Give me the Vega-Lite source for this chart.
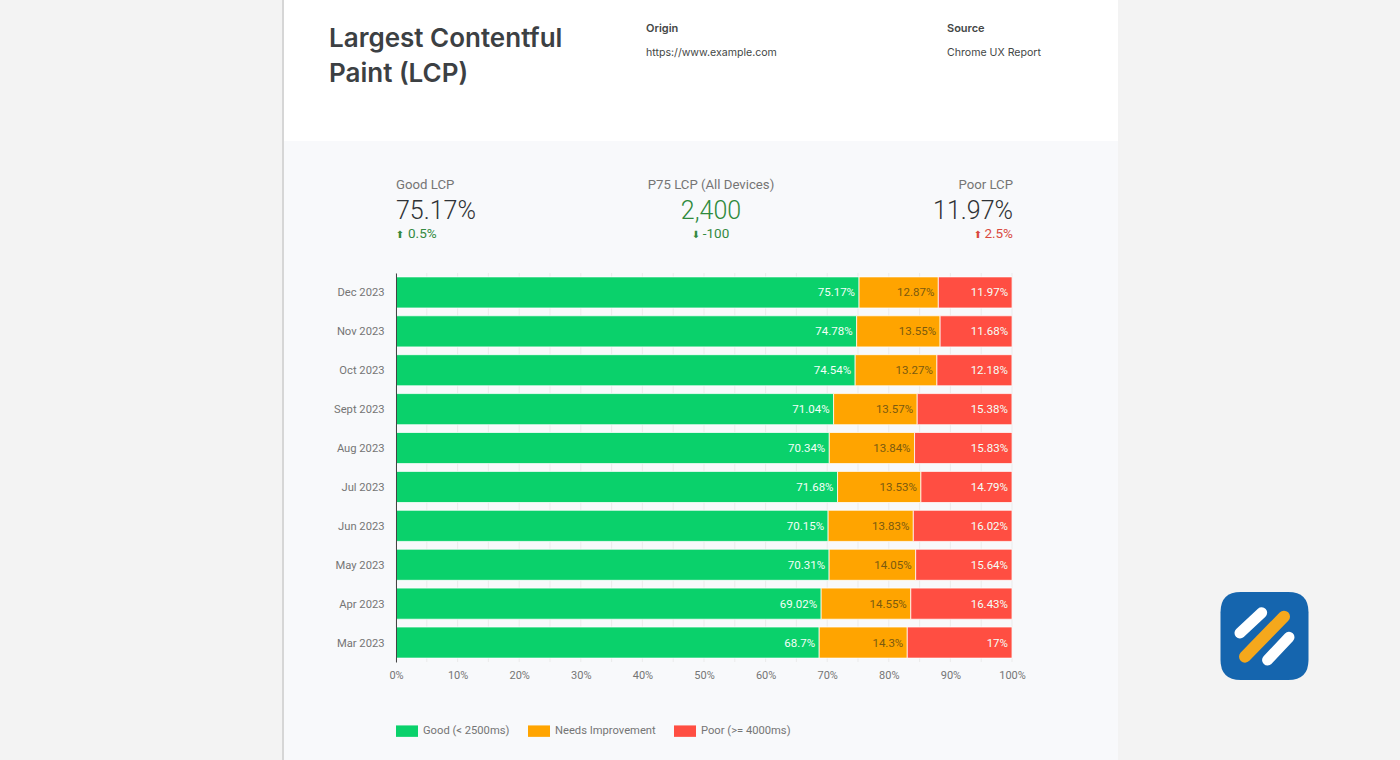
{
  "$schema": "https://vega.github.io/schema/vega-lite/v6.json",
  "description": "Largest Contentful Paint report card: monthly share of good, needs improvement and poor LCP",
  "width": 1400,
  "height": 760,
  "padding": 0,
  "autosize": {"type": "none"},
  "background": "#f3f3f3",
  "datasets": {
    "months": [
      {"month": "Dec 2023", "status": "Good (< 2500ms)", "share": 0.7517},
      {"month": "Dec 2023", "status": "Needs Improvement", "share": 0.1287},
      {"month": "Dec 2023", "status": "Poor (>= 4000ms)", "share": 0.1197},
      {"month": "Nov 2023", "status": "Good (< 2500ms)", "share": 0.7478},
      {"month": "Nov 2023", "status": "Needs Improvement", "share": 0.1355},
      {"month": "Nov 2023", "status": "Poor (>= 4000ms)", "share": 0.1168},
      {"month": "Oct 2023", "status": "Good (< 2500ms)", "share": 0.7454},
      {"month": "Oct 2023", "status": "Needs Improvement", "share": 0.1327},
      {"month": "Oct 2023", "status": "Poor (>= 4000ms)", "share": 0.1218},
      {"month": "Sept 2023", "status": "Good (< 2500ms)", "share": 0.7104},
      {"month": "Sept 2023", "status": "Needs Improvement", "share": 0.1357},
      {"month": "Sept 2023", "status": "Poor (>= 4000ms)", "share": 0.1538},
      {"month": "Aug 2023", "status": "Good (< 2500ms)", "share": 0.7034},
      {"month": "Aug 2023", "status": "Needs Improvement", "share": 0.1384},
      {"month": "Aug 2023", "status": "Poor (>= 4000ms)", "share": 0.1583},
      {"month": "Jul 2023", "status": "Good (< 2500ms)", "share": 0.7168},
      {"month": "Jul 2023", "status": "Needs Improvement", "share": 0.1353},
      {"month": "Jul 2023", "status": "Poor (>= 4000ms)", "share": 0.1479},
      {"month": "Jun 2023", "status": "Good (< 2500ms)", "share": 0.7015},
      {"month": "Jun 2023", "status": "Needs Improvement", "share": 0.1383},
      {"month": "Jun 2023", "status": "Poor (>= 4000ms)", "share": 0.1602},
      {"month": "May 2023", "status": "Good (< 2500ms)", "share": 0.7031},
      {"month": "May 2023", "status": "Needs Improvement", "share": 0.1405},
      {"month": "May 2023", "status": "Poor (>= 4000ms)", "share": 0.1564},
      {"month": "Apr 2023", "status": "Good (< 2500ms)", "share": 0.6902},
      {"month": "Apr 2023", "status": "Needs Improvement", "share": 0.1455},
      {"month": "Apr 2023", "status": "Poor (>= 4000ms)", "share": 0.1643},
      {"month": "Mar 2023", "status": "Good (< 2500ms)", "share": 0.687},
      {"month": "Mar 2023", "status": "Needs Improvement", "share": 0.143},
      {"month": "Mar 2023", "status": "Poor (>= 4000ms)", "share": 0.17}
    ],
    "kpis": [
      {"kpi": "Good LCP", "value": "75.17%", "delta": "0.5%", "arrow": "⬆", "trend": "good"},
      {"kpi": "P75 LCP (All Devices)", "value": "2,400", "delta": "-100", "arrow": "⬇", "trend": "good"},
      {"kpi": "Poor LCP", "value": "11.97%", "delta": "2.5%", "arrow": "⬆", "trend": "bad"}
    ],
    "gridlines": [
      {"tick": 0}, {"tick": 0.05}, {"tick": 0.1}, {"tick": 0.15}, {"tick": 0.2}, {"tick": 0.25}, {"tick": 0.3},
      {"tick": 0.35}, {"tick": 0.4}, {"tick": 0.45}, {"tick": 0.5}, {"tick": 0.55}, {"tick": 0.6}, {"tick": 0.65},
      {"tick": 0.7}, {"tick": 0.75}, {"tick": 0.8}, {"tick": 0.85}, {"tick": 0.9}, {"tick": 0.95}, {"tick": 1}
    ]
  },
  "resolve": {
    "scale": {"x": "independent", "y": "independent", "color": "independent"},
    "axis": {"x": "independent", "y": "independent"}
  },
  "layer": [
    {
      "data": {"values": [{"card": "edge", "part": "body"}]},
      "mark": {"type": "rect", "color": "#d6d6d6"},
      "encoding": {
        "x": {"field": "card", "type": "nominal", "axis": null, "scale": {"type": "band", "domain": ["edge"], "range": [282, 284], "paddingInner": 0, "paddingOuter": 0}},
        "y": {"field": "part", "type": "nominal", "axis": null, "scale": {"type": "band", "domain": ["body"], "range": [0, 760], "paddingInner": 0, "paddingOuter": 0}}
      }
    },
    {
      "data": {"values": [{"card": "report", "part": "header"}]},
      "mark": {"type": "rect", "color": "#ffffff"},
      "encoding": {
        "x": {"field": "card", "type": "nominal", "axis": null, "scale": {"type": "band", "domain": ["report"], "range": [284, 1118], "paddingInner": 0, "paddingOuter": 0}},
        "y": {"field": "part", "type": "nominal", "axis": null, "scale": {"type": "band", "domain": ["header"], "range": [0, 141], "paddingInner": 0, "paddingOuter": 0}}
      }
    },
    {
      "data": {"values": [{"card": "report", "part": "body"}]},
      "mark": {"type": "rect", "color": "#f8f9fb"},
      "encoding": {
        "x": {"field": "card", "type": "nominal", "axis": null, "scale": {"type": "band", "domain": ["report"], "range": [284, 1118], "paddingInner": 0, "paddingOuter": 0}},
        "y": {"field": "part", "type": "nominal", "axis": null, "scale": {"type": "band", "domain": ["body"], "range": [141, 760], "paddingInner": 0, "paddingOuter": 0}}
      }
    },
    {
      "data": {"name": "gridlines"},
      "mark": {"type": "rule", "color": "#ebebeb", "strokeWidth": 1},
      "encoding": {
        "x": {"field": "tick", "type": "quantitative", "axis": null, "scale": {"domain": [0, 1], "range": [396, 1012], "nice": false, "zero": false}},
        "y": {"datum": 0, "type": "quantitative", "axis": null, "scale": {"domain": [0, 1], "range": [273, 662], "nice": false, "zero": false}},
        "y2": {"datum": 1}
      }
    },
    {
      "data": {"name": "months"},
      "transform": [
        {"stack": "share", "groupby": ["month"], "sort": [{"field": "status", "order": "ascending"}], "as": ["x0", "x1"]}
      ],
      "encoding": {
        "y": {
          "field": "month",
          "type": "nominal",
          "title": null,
          "sort": null,
          "scale": {
            "type": "band",
            "domain": ["Dec 2023", "Nov 2023", "Oct 2023", "Sept 2023", "Aug 2023", "Jul 2023", "Jun 2023", "May 2023", "Apr 2023", "Mar 2023"],
            "range": [273, 662],
            "paddingInner": 0.2,
            "paddingOuter": 0.1
          },
          "axis": {
            "orient": "left",
            "offset": -396,
            "zindex": 1,
            "domainColor": "#444444",
            "domainWidth": 1,
            "ticks": false,
            "grid": false,
            "labelPadding": 12,
            "labelOffset": 1,
            "labelFont": "Roboto",
            "labelFontSize": 11.2,
            "labelColor": "#757575"
          }
        }
      },
      "layer": [
        {
          "mark": {"type": "bar", "stroke": "#ffffff", "strokeWidth": 1, "strokeOpacity": 0.75},
          "encoding": {
            "x": {
              "field": "x0",
              "type": "quantitative",
              "title": null,
              "scale": {"domain": [0, 1], "range": [396, 1012], "nice": false, "zero": false},
              "axis": {
                "orient": "bottom",
                "offset": -98,
                "zindex": 1,
                "values": [0, 0.1, 0.2, 0.3, 0.4, 0.5, 0.6, 0.7, 0.8, 0.9, 1],
                "format": ".0%",
                "domain": false,
                "ticks": false,
                "grid": false,
                "labelFlush": false,
                "labelPadding": 7,
                "labelFont": "Roboto",
                "labelFontSize": 11,
                "labelColor": "#757575"
              }
            },
            "x2": {"field": "x1"},
            "color": {
              "field": "status",
              "type": "nominal",
              "scale": {
                "domain": ["Good (< 2500ms)", "Needs Improvement", "Poor (>= 4000ms)"],
                "range": ["#0ad16b", "#ffa400", "#ff4e42"]
              },
              "legend": {
                "orient": "none",
                "legendX": 396,
                "legendY": 720,
                "direction": "horizontal",
                "title": null,
                "symbolType": "M-1,-0.52H1V0.52H-1Z",
                "symbolSize": 484,
                "symbolStrokeWidth": 0,
                "symbolOpacity": 1,
                "labelFont": "Roboto",
                "labelFontSize": 11.2,
                "labelColor": "#757575",
                "labelOffset": 5,
                "columnPadding": 18
              }
            }
          }
        },
        {
          "mark": {"type": "text", "align": "right", "baseline": "middle", "dx": -4, "dy": 1, "font": "Roboto", "fontSize": 11.5},
          "encoding": {
            "x": {
              "field": "x1",
              "type": "quantitative",
              "title": null,
              "scale": {"domain": [0, 1], "range": [396, 1012], "nice": false, "zero": false}
            },
            "text": {"field": "share", "type": "quantitative", "format": ".2~%"},
            "color": {
              "condition": {"test": "datum.status === 'Needs Improvement'", "value": "#7a5a10"},
              "value": "#f4fff8"
            }
          }
        }
      ]
    },
    {
      "data": {"values": [{"line": "Largest Contentful"}, {"line": "Paint (LCP)"}]},
      "mark": {"type": "text", "align": "left", "baseline": "middle", "dy": 1, "font": "Inter", "fontSize": 26, "fontWeight": 600, "color": "#3c4043"},
      "encoding": {
        "x": {"datum": "title", "type": "nominal", "axis": null, "scale": {"type": "point", "domain": ["title"], "range": [329, 329], "padding": 0}},
        "y": {"field": "line", "type": "nominal", "axis": null, "sort": null, "scale": {"type": "point", "domain": ["Largest Contentful", "Paint (LCP)"], "range": [38, 73], "padding": 0}},
        "text": {"field": "line"}
      }
    },
    {
      "data": {"values": [
        {"column": "Origin", "row": "heading", "text": "Origin"},
        {"column": "Origin", "row": "content", "text": "https://www.example.com"},
        {"column": "Source", "row": "heading", "text": "Source"},
        {"column": "Source", "row": "content", "text": "Chrome UX Report"}
      ]},
      "mark": {
        "type": "text", "align": "left", "baseline": "middle", "font": "Inter", "dy": 1,
        "fontSize": {"expr": "datum.row === 'heading' ? 11 : 10.6"},
        "fontWeight": {"expr": "datum.row === 'heading' ? 600 : 400"},
        "color": "#444746"
      },
      "encoding": {
        "x": {"field": "column", "type": "nominal", "axis": null, "scale": {"type": "point", "domain": ["Origin", "Source"], "range": [646, 947], "padding": 0}},
        "y": {"field": "row", "type": "nominal", "axis": null, "scale": {"type": "point", "domain": ["heading", "content"], "range": [28, 52], "padding": 0}},
        "text": {"field": "text"}
      }
    },
    {
      "data": {"name": "kpis"},
      "mark": {
        "type": "text", "baseline": "middle", "font": "Roboto", "fontSize": 13.2, "color": "#757575",
        "align": {"expr": "datum.kpi === 'Good LCP' ? 'left' : datum.kpi === 'Poor LCP' ? 'right' : 'center'"},
        "dx": {"expr": "datum.kpi === 'Good LCP' || datum.kpi === 'Poor LCP' ? 0 : 6.5"}
      },
      "encoding": {
        "x": {"field": "kpi", "type": "nominal", "axis": null, "sort": null, "scale": {"type": "point", "domain": ["Good LCP", "P75 LCP (All Devices)", "Poor LCP"], "range": [396, 1013], "padding": 0}},
        "y": {"datum": "label", "type": "nominal", "axis": null, "scale": {"type": "point", "domain": ["label", "value", "delta"], "range": [185, 234], "padding": 0}},
        "text": {"field": "kpi"}
      }
    },
    {
      "data": {"name": "kpis"},
      "mark": {
        "type": "text", "baseline": "middle", "font": "Roboto", "fontSize": 25, "fontWeight": 300, "dy": 1,
        "align": {"expr": "datum.kpi === 'Good LCP' ? 'left' : datum.kpi === 'Poor LCP' ? 'right' : 'center'"},
        "dx": {"expr": "datum.kpi === 'Good LCP' || datum.kpi === 'Poor LCP' ? 0 : 6.5"}
      },
      "encoding": {
        "x": {"field": "kpi", "type": "nominal", "axis": null, "sort": null, "scale": {"type": "point", "domain": ["Good LCP", "P75 LCP (All Devices)", "Poor LCP"], "range": [396, 1013], "padding": 0}},
        "y": {"datum": "value", "type": "nominal", "axis": null, "scale": {"type": "point", "domain": ["label", "value", "delta"], "range": [185, 234], "padding": 0}},
        "text": {"field": "value"},
        "color": {
          "condition": {"test": "datum.kpi === 'P75 LCP (All Devices)'", "value": "#2f8a3c"},
          "value": "#2f3235"
        }
      }
    },
    {
      "data": {"name": "kpis"},
      "mark": {
        "type": "text", "baseline": "middle", "font": "Roboto", "fontSize": 13.5,
        "align": {"expr": "datum.kpi === 'Poor LCP' ? 'right' : datum.kpi === 'Good LCP' ? 'left' : 'center'"},
        "dx": {"expr": "datum.kpi === 'Good LCP' ? 12 : datum.kpi === 'Poor LCP' ? 0 : 11.5"}
      },
      "encoding": {
        "x": {"field": "kpi", "type": "nominal", "axis": null, "sort": null, "scale": {"type": "point", "domain": ["Good LCP", "P75 LCP (All Devices)", "Poor LCP"], "range": [396, 1013], "padding": 0}},
        "y": {"datum": "delta", "type": "nominal", "axis": null, "scale": {"type": "point", "domain": ["label", "value", "delta"], "range": [185, 234], "padding": 0}},
        "text": {"field": "delta"},
        "color": {
          "condition": {"test": "datum.trend === 'bad'", "value": "#d9493f"},
          "value": "#34893f"
        }
      }
    },
    {
      "data": {"name": "kpis"},
      "mark": {
        "type": "text", "baseline": "middle", "align": "center", "font": "DejaVu Sans", "fontSize": 10,
        "dx": {"expr": "datum.kpi === 'Good LCP' ? 4 : datum.kpi === 'Poor LCP' ? -35 : -8.5"}
      },
      "encoding": {
        "x": {"field": "kpi", "type": "nominal", "axis": null, "sort": null, "scale": {"type": "point", "domain": ["Good LCP", "P75 LCP (All Devices)", "Poor LCP"], "range": [396, 1013], "padding": 0}},
        "y": {"datum": "delta", "type": "nominal", "axis": null, "scale": {"type": "point", "domain": ["label", "value", "delta"], "range": [185, 235], "padding": 0}},
        "text": {"field": "arrow"},
        "color": {
          "condition": {"test": "datum.trend === 'bad'", "value": "#d9493f"},
          "value": "#34893f"
        }
      }
    },
    {
      "data": {"values": [{"badge": "logo"}]},
      "mark": {"type": "point", "filled": true, "opacity": 1, "color": "#1565ae", "size": 7744, "shape": "M-0.54,-1H0.54Q1,-1 1,-0.54V0.54Q1,1 0.54,1H-0.54Q-1,1 -1,0.54V-0.54Q-1,-1 -0.54,-1Z"},
      "encoding": {
        "x": {"field": "badge", "type": "nominal", "axis": null, "scale": {"type": "point", "domain": ["logo"], "range": [1264.5, 1264.5], "padding": 0}},
        "y": {"field": "badge", "type": "nominal", "axis": null, "scale": {"type": "point", "domain": ["logo"], "range": [636, 636], "padding": 0}}
      }
    },
    {
      "data": {"values": [{"badge": "logo"}]},
      "mark": {"type": "point", "filled": false, "opacity": 1, "stroke": "#ffffff", "strokeWidth": 11, "strokeCap": "round", "size": 7744, "shape": "M-0.557,-0.068L-0.064,-0.53M0.07,0.545L0.557,0.03"},
      "encoding": {
        "x": {"field": "badge", "type": "nominal", "axis": null, "scale": {"type": "point", "domain": ["logo"], "range": [1264.5, 1264.5], "padding": 0}},
        "y": {"field": "badge", "type": "nominal", "axis": null, "scale": {"type": "point", "domain": ["logo"], "range": [636, 636], "padding": 0}}
      }
    },
    {
      "data": {"values": [{"badge": "logo"}]},
      "mark": {"type": "point", "filled": false, "opacity": 1, "stroke": "#f5a81c", "strokeWidth": 12, "strokeCap": "round", "size": 7744, "shape": "M-0.443,0.47L0.443,-0.44"},
      "encoding": {
        "x": {"field": "badge", "type": "nominal", "axis": null, "scale": {"type": "point", "domain": ["logo"], "range": [1264.5, 1264.5], "padding": 0}},
        "y": {"field": "badge", "type": "nominal", "axis": null, "scale": {"type": "point", "domain": ["logo"], "range": [636, 636], "padding": 0}}
      }
    }
  ],
  "config": {
    "view": {"stroke": null}
  }
}
